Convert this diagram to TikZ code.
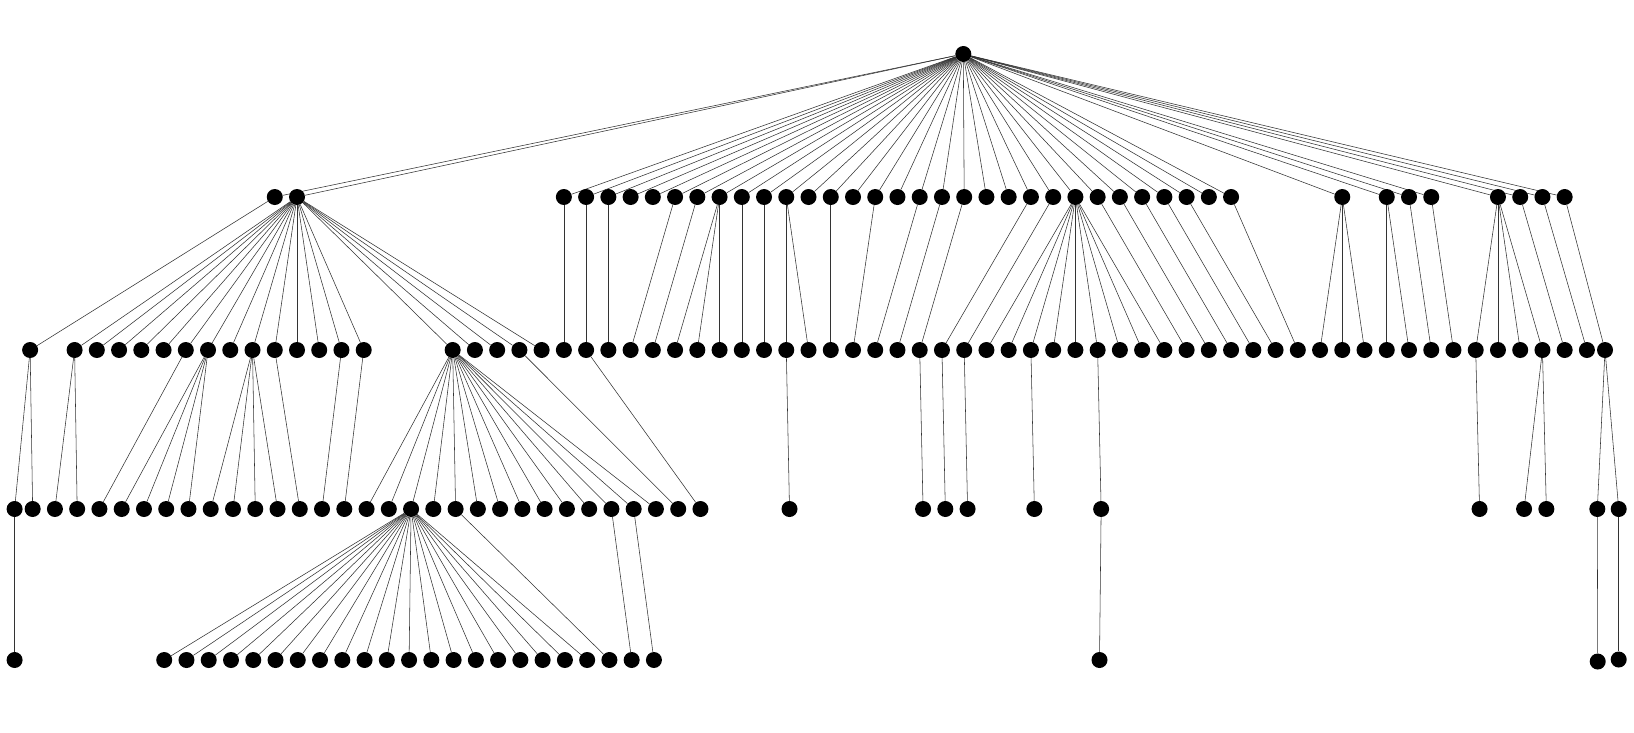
\documentclass[tikz,border=0pt]{standalone}
\pgfdeclarelayer{back}
\pgfdeclarelayer{bg}
\pgfsetlayers{back,bg,main}
\begin{document}
\begin{tikzpicture}[x=1pt,y=-1pt,
  dot/.style={circle,fill=black,inner sep=0pt,minimum size=16pt},
  link/.style={draw=black!80,line width=0.55pt}]
\useasboundingbox (0,0) rectangle (1634,732);
\begin{pgfonlayer}{back}
\fill[white] (0,0) rectangle (1634,732);
\end{pgfonlayer}
% root
\node[dot] (r) at (963.3,54) {};
% level 1
\foreach \m in {9,10,57,59,60,61,64,65,66,67}
  \node[dot] (a\m) at ({74.6+22.24*\m},197) {};
\foreach \m in {22,...,52}
  \node[dot] (a\m) at ({74.6+22.24*\m},197) {};
% level 2
\node[dot] (bL) at ({74.6-2*22.24},350) {};
\foreach \m in {0,...,13}
  \node[dot] (b\m) at ({74.6+22.24*\m},350) {};
\foreach \m in {17,...,68}
  \node[dot] (b\m) at ({74.6+22.24*\m},350) {};
\node[dot] (bR) at (1605,350) {};
% level 3
\node[dot] (c0) at (14.6,509) {};
\foreach \n in {1,...,31}
  \node[dot] (c\n) at ({10.4+22.26*\n},509) {};
\foreach \n in {35,41,42,43,46,49,66,68,69}
  \node[dot] (c\n) at ({10.4+22.26*\n},509) {};
\node[dot] (cR1) at (1597.3,509) {};
\node[dot] (cR2) at (1618.7,509) {};
% level 4
\node[dot] (d0) at (14.6,660) {};
\foreach \n in {7,...,29}
  \node[dot] (d\n) at ({8.4+22.26*\n},660) {};
\node[dot] (d49) at (1099.5,660) {};
\node[dot] (dR1) at (1597.7,661.5) {};
\node[dot] (dR2) at (1618.7,659.5) {};
% connectors
\begin{pgfonlayer}{bg}
\foreach \m in {9,10,57,59,60,61,64,65,66,67}
  \draw[link] (r) -- (a\m);
\foreach \m in {22,...,52}
  \draw[link] (r) -- (a\m);
\draw[link] (a9) -- (bL);
\foreach \m in {0,...,13}
  \draw[link] (a10) -- (b\m);
\foreach \m in {17,...,21}
  \draw[link] (a10) -- (b\m);
\foreach \p/\q in {22/22,23/23,24/24,27/25,28/26,29/27,29/28,29/29,30/30,31/31,32/32,32/33,34/34,36/35,38/36,39/37,40/38,43/39,44/40,46/50,47/51,48/52,49/53,50/54,52/55,57/56,57/57,57/58,59/59,59/60,60/61,61/62,64/63,64/64,64/65,64/66,65/67,66/68}
  \draw[link] (a\p) -- (b\q);
\foreach \m in {41,...,49}
  \draw[link] (a45) -- (b\m);
\draw[link] (a67) -- (bR);
% level 2 to 3
\draw[link] (bL) -- (c0);
\draw[link] (bL) -- (c1);
\foreach \p/\q in {0/2,0/3,5/4,6/5,6/6,6/7,6/8,8/9,8/10,8/11,8/12,9/13,12/14,13/15,20/30,23/31,32/35,38/41,39/42,40/43,43/46,46/49,63/66,66/68,66/69}
  \draw[link] (b\p) -- (c\q);
\foreach \n in {16,...,29}
  \draw[link] (b17) -- (c\n);
\draw[link] (bR) -- (cR1);
\draw[link] (bR) -- (cR2);
% level 3 to 4
\draw[link] (c0) -- (d0);
\foreach \n in {7,...,26}
  \draw[link] (c18) -- (d\n);
\draw[link] (c20) -- (d27);
\draw[link] (c27) -- (d28);
\draw[link] (c28) -- (d29);
\draw[link] (c49) -- (d49);
\draw[link] (cR1) -- (dR1);
\draw[link] (cR2) -- (dR2);
\end{pgfonlayer}
\end{tikzpicture}
\end{document}
